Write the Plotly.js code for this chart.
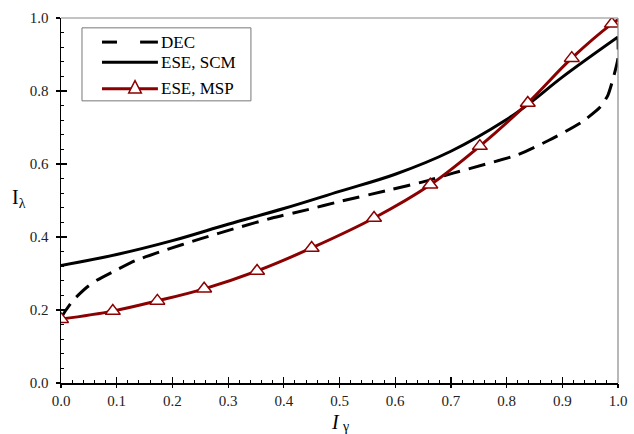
<!DOCTYPE html>
<html>
<head>
<meta charset="utf-8">
<script src="https://cdn.plot.ly/plotly-3.0.1.min.js"></script>
<style>html,body{margin:0;padding:0;background:#fff;}#chart{width:634px;height:434px;}</style>
</head>
<body>
<div id="chart"></div>
<script>
// DEC (dashed)
const decX = [0.0, 0.009, 0.022, 0.047, 0.065, 0.1, 0.133, 0.183, 0.25, 0.316, 0.379, 0.443, 0.5, 0.585, 0.66, 0.704, 0.819, 0.876, 0.935, 0.968, 0.982, 0.993, 1.0, 1.0];
const decY = [0.178, 0.2, 0.227, 0.263, 0.282, 0.31, 0.335, 0.362, 0.395, 0.425, 0.452, 0.475, 0.497, 0.527, 0.555, 0.575, 0.625, 0.665, 0.715, 0.756, 0.789, 0.844, 0.89, 0.948];
// ESE, SCM (solid black)
const scmX = [0.0, 0.1, 0.2, 0.3, 0.4, 0.5, 0.6, 0.7, 0.8, 0.84, 0.9, 1.0];
const scmY = [0.322, 0.352, 0.39, 0.435, 0.478, 0.525, 0.572, 0.635, 0.722, 0.765, 0.838, 0.948];
// ESE, MSP (dark red, triangles)
const mspX = [0.0, 0.093, 0.173, 0.257, 0.352, 0.45, 0.562, 0.663, 0.752, 0.838, 0.917, 0.989, 1.0];
const mspY = [0.175, 0.197, 0.225, 0.258, 0.307, 0.37, 0.452, 0.543, 0.649, 0.767, 0.89, 0.984, 0.995];
const mspMarkerShown = [1, 1, 1, 1, 1, 1, 1, 1, 1, 1, 1, 1, 0];
const seriesNames = ['DEC', 'ESE, SCM', 'ESE, MSP'];

const serif = 'Liberation Serif';
const red = '#8B0000';

const traces = [
  {x: decX, y: decY, name: seriesNames[0], mode: 'lines', type: 'scatter',
   line: {color: '#000', width: 3, dash: '17px,9px', shape: 'spline', smoothing: 0.6}},
  {x: scmX, y: scmY, name: seriesNames[1], mode: 'lines', type: 'scatter',
   line: {color: '#000', width: 3, shape: 'spline'}},
  {x: mspX, y: mspY, name: seriesNames[2], mode: 'lines', type: 'scatter',
   line: {color: red, width: 3, shape: 'spline'}},
  {x: mspX.filter((v, i) => mspMarkerShown[i]), y: mspY.filter((v, i) => mspMarkerShown[i]), mode: 'markers', type: 'scatter',
   marker: {symbol: 'triangle-up', size: 13, color: '#ffffff', opacity: 1, line: {color: red, width: 1.5}}},
  // overlay axes for outward part of major ticks
  {x: [0], y: [0], xaxis: 'x2', yaxis: 'y2', mode: 'markers', marker: {opacity: 0}, hoverinfo: 'skip'}
];

// manual legend (paper coords)
const lgX0 = 0.0736, lgX1 = 0.174, lgTx = 0.176;
const lgY = [0.934, 0.879, 0.806];
const shapes = [
  {type: 'line', xref: 'paper', yref: 'paper', x0: 0, x1: 1, y0: 1, y1: 1, line: {color: '#888', width: 1.2}},
  {type: 'line', xref: 'paper', yref: 'paper', x0: 1, x1: 1, y0: 0, y1: 1, line: {color: '#888', width: 1.2}},
  {type: 'rect', xref: 'paper', yref: 'paper', x0: 0.0377, x1: 0.341, y0: 0.773, y1: 0.973,
   line: {color: '#777', width: 1}, fillcolor: '#fff', layer: 'above'},
  {type: 'line', xref: 'paper', yref: 'paper', x0: lgX0, x1: 0.1005, y0: lgY[0], y1: lgY[0], line: {color: '#000', width: 3}, layer: 'above'},
  {type: 'line', xref: 'paper', yref: 'paper', x0: 0.142, x1: lgX1, y0: lgY[0], y1: lgY[0], line: {color: '#000', width: 3}, layer: 'above'},
  {type: 'line', xref: 'paper', yref: 'paper', x0: lgX0, x1: lgX1, y0: lgY[1], y1: lgY[1], line: {color: '#000', width: 3}, layer: 'above'},
  {type: 'line', xref: 'paper', yref: 'paper', x0: lgX0, x1: lgX1, y0: lgY[2], y1: lgY[2], line: {color: red, width: 3}, layer: 'above'},
  {type: 'path', xref: 'paper', yref: 'paper', layer: 'above',
   path: 'M 0.1329 0.8285 L 0.1216 0.7945 L 0.1442 0.7945 Z', fillcolor: '#fff', line: {color: red, width: 1.5}}
];

const annotations = [
  {text: 'I<sub>λ</sub>', xref: 'paper', yref: 'paper', x: -0.075, y: 0.505, xanchor: 'center', yanchor: 'middle',
   showarrow: false, font: {family: serif, size: 20, color: '#000'}},
  {text: '<i>I</i>', xref: 'paper', yref: 'paper', x: 0.5018, y: -0.1055, xanchor: 'right', yanchor: 'middle',
   showarrow: false, borderpad: 0, font: {family: serif, size: 20, color: '#000'}},
  {text: 'γ', xref: 'paper', yref: 'paper', x: 0.5018, y: -0.1205, xanchor: 'left', yanchor: 'middle',
   showarrow: false, borderpad: 0, font: {family: serif, size: 14, color: '#000'}}
].concat(seriesNames.map((n, i) => ({text: n, xref: 'paper', yref: 'paper', x: lgTx, y: lgY[i], xanchor: 'left', yanchor: 'middle',
   showarrow: false, font: {family: serif, size: 17, color: '#000'}})));

const layout = {
  width: 634, height: 434,
  margin: {l: 61, r: 16, t: 18, b: 51},
  paper_bgcolor: '#fff', plot_bgcolor: '#fff',
  font: {family: serif, size: 15, color: '#000'},
  showlegend: false,
  xaxis: {range: [0, 1], dtick: 0.1, tick0: 0, tickformat: '.1f', showgrid: false, zeroline: false,
          showline: true, linecolor: '#000', linewidth: 1.5, ticks: 'inside', ticklen: 6, tickwidth: 1.2, tickcolor: '#000',
          minor: {dtick: 0.02, ticks: 'inside', ticklen: 3, tickwidth: 1, tickcolor: '#000'},
          tickfont: {family: serif, size: 15, color: '#222'}, ticklabelstandoff: 3},
  yaxis: {range: [0, 1], dtick: 0.2, tick0: 0, tickformat: '.1f', showgrid: false, zeroline: false,
          showline: true, linecolor: '#000', linewidth: 1.5, ticks: 'inside', ticklen: 6, tickwidth: 1.2, tickcolor: '#000',
          minor: {dtick: 0.04, ticks: 'inside', ticklen: 3, tickwidth: 1, tickcolor: '#000'},
          tickfont: {family: serif, size: 15, color: '#222'}, ticklabelstandoff: 8},
  xaxis2: {overlaying: 'x', matches: 'x', range: [0, 1], dtick: 0.1, tick0: 0, showticklabels: false, showgrid: false,
           zeroline: false, showline: false, ticks: 'outside', ticklen: 4, tickwidth: 1.2, tickcolor: '#000', anchor: 'y2'},
  yaxis2: {overlaying: 'y', matches: 'y', range: [0, 1], dtick: 0.2, tick0: 0, showticklabels: false, showgrid: false,
           zeroline: false, showline: false, ticks: 'outside', ticklen: 4, tickwidth: 1.2, tickcolor: '#000', anchor: 'x2'},
  shapes: shapes,
  annotations: annotations
};

Plotly.newPlot('chart', traces, layout, {displayModeBar: false, staticPlot: true});
</script>
</body>
</html>
